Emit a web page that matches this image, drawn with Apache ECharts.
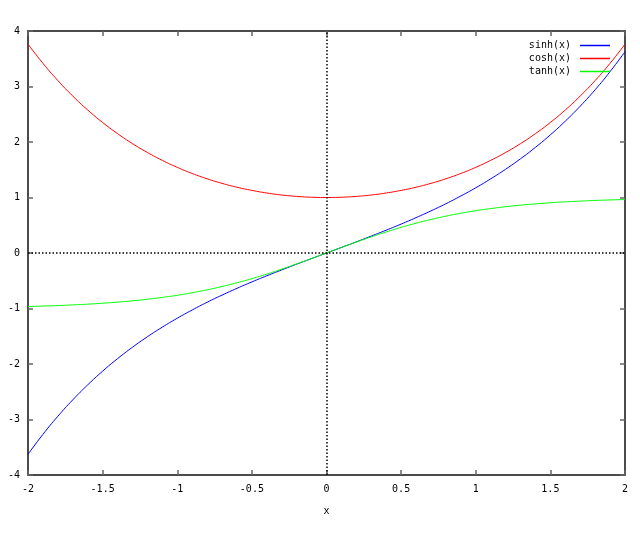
<!DOCTYPE html>
<html>
<head>
<meta charset="utf-8">
<script src="https://cdn.jsdelivr.net/npm/echarts@6/dist/echarts.min.js"></script>
<style>html,body{margin:0;padding:0;background:#fff}#c{width:640px;height:534px}</style>
</head>
<body>
<div id="c"></div>
<script>
var xs = [-2.0,-1.9,-1.8,-1.7,-1.6,-1.5,-1.4,-1.3,-1.2,-1.1,-1.0,-0.9,-0.8,-0.7,-0.6,-0.5,-0.4,-0.3,-0.2,-0.1,0.0,
          0.1,0.2,0.3,0.4,0.5,0.6,0.7,0.8,0.9,1.0,1.1,1.2,1.3,1.4,1.5,1.6,1.7,1.8,1.9,2.0];
var sinhVals = [-3.627,-3.268,-2.942,-2.646,-2.376,-2.129,-1.904,-1.698,-1.509,-1.336,-1.175,-1.027,-0.888,-0.759,-0.637,-0.521,-0.411,-0.305,-0.201,-0.100,0.000,
                0.100,0.201,0.305,0.411,0.521,0.637,0.759,0.888,1.027,1.175,1.336,1.509,1.698,1.904,2.129,2.376,2.646,2.942,3.268,3.627];
var coshVals = [3.762,3.418,3.107,2.828,2.577,2.352,2.151,1.971,1.811,1.669,1.543,1.433,1.337,1.255,1.185,1.128,1.081,1.045,1.020,1.005,1.000,
                1.005,1.020,1.045,1.081,1.128,1.185,1.255,1.337,1.433,1.543,1.669,1.811,1.971,2.151,2.352,2.577,2.828,3.107,3.418,3.762];
var tanhVals = [-0.964,-0.956,-0.947,-0.935,-0.922,-0.905,-0.885,-0.862,-0.834,-0.800,-0.762,-0.716,-0.664,-0.604,-0.537,-0.462,-0.380,-0.291,-0.197,-0.100,0.000,
                0.100,0.197,0.291,0.380,0.462,0.537,0.604,0.664,0.716,0.762,0.800,0.834,0.862,0.885,0.905,0.922,0.935,0.947,0.956,0.964];
var seriesNames = ['sinh(x)','cosh(x)','tanh(x)'];
var seriesColors = ['#0000ff','#ff0000','#00ff00'];
var xTitle = 'x';

function pairs(ys){ return xs.map(function(x,i){ return [x, ys[i]]; }); }
var FONT = 'DejaVu Sans Mono';
var frame = {show:true, onZero:false, lineStyle:{color:'#111', width:1.5}};
var ticks = {show:true, inside:true, length:5, lineStyle:{color:'#666', width:1.5}};

var chart = echarts.init(document.getElementById('c'), null, {renderer:'canvas'});
var allVals = [sinhVals, coshVals, tanhVals];
var series = seriesNames.map(function(n,i){
  return {
    name:n, type:'line', data:pairs(allVals[i]), smooth:true, showSymbol:false, symbol:'none',
    lineStyle:{color:seriesColors[i], width:1}, itemStyle:{color:seriesColors[i]},
    animation:false, z:3
  };
});
series[0].markLine = {
  silent:true, symbol:'none', label:{show:false}, animation:false,
  lineStyle:{color:'#000', width:1.5, type:[1.5,2]},
  data:[{xAxis:0},{yAxis:0}]
};
chart.setOption({
  backgroundColor:'#fff',
  animation:false,
  textStyle:{fontFamily:FONT},
  grid:{left:28, right:15, top:31, bottom:59},
  legend:{
    orient:'vertical', right:25, top:35, align:'right',
    icon:'rect', itemWidth:30, itemHeight:1.5, itemGap:2,
    textStyle:{fontFamily:FONT, fontSize:10, color:'#000', lineHeight:11, padding:[0,4,0,0]},
    data:seriesNames.map(function(n,i){return {name:n, itemStyle:{color:seriesColors[i]}};})
  },
  xAxis:[
    {type:'value', min:-2, max:2, interval:0.5, position:'bottom',
     name:xTitle, nameLocation:'middle', nameGap:31,
     nameTextStyle:{fontFamily:FONT, fontSize:10, color:'#000'},
     axisLine:frame, axisTick:ticks, splitLine:{show:false},
     axisLabel:{fontFamily:FONT, fontSize:10, color:'#000', margin:9}},
    {type:'value', min:-2, max:2, interval:0.5, position:'top',
     axisLine:frame, axisTick:ticks, splitLine:{show:false}, axisLabel:{show:false}}
  ],
  yAxis:[
    {type:'value', min:-4, max:4, interval:1, position:'left',
     axisLine:frame, axisTick:ticks, splitLine:{show:false},
     axisLabel:{fontFamily:FONT, fontSize:10, color:'#000', margin:8}},
    {type:'value', min:-4, max:4, interval:1, position:'right',
     axisLine:frame, axisTick:ticks, splitLine:{show:false}, axisLabel:{show:false}}
  ],
  series:series
});
</script>
</body>
</html>
